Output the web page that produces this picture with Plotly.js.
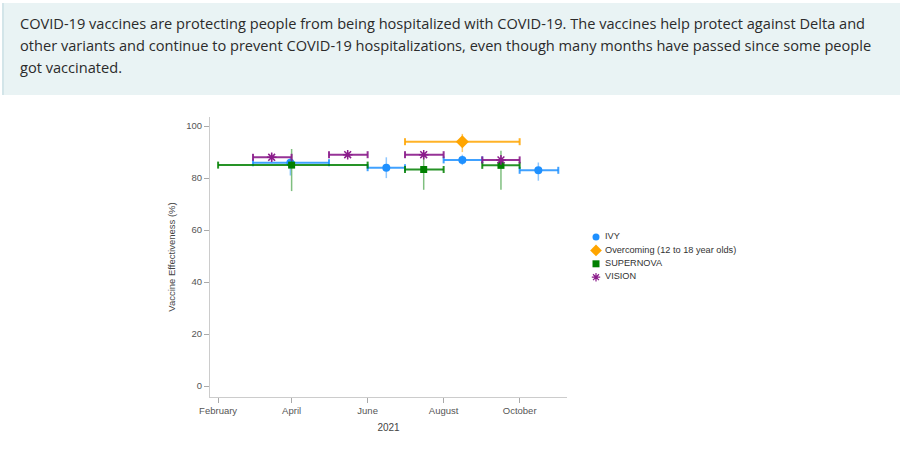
<!DOCTYPE html>
<html>
<head>
<meta charset="utf-8">
<script src="https://cdn.plot.ly/plotly-3.0.1.min.js"></script>
<style>
  html, body { margin: 0; padding: 0; background: #fff; width: 900px; height: 456px; overflow: hidden; }
  #hdr { position: absolute; left: 2px; top: 3px; width: 898px; height: 92px; background: #e9f3f4;
         border-left: 2px solid #d3e5e9; padding: 9px 20px 0 16px; box-sizing: border-box;
         font-family: "Open Sans", sans-serif; font-size: 14.6px; line-height: 22px; color: #2b2b2b; z-index: 2; }
  #chart { position: absolute; left: 0; top: 0; width: 900px; height: 456px; }
</style>
</head>
<body>
<div id="chart"></div>
<div id="hdr">COVID-19 vaccines are protecting people from being hospitalized with COVID-19. The vaccines help protect against Delta and other variants and continue to prevent COVID-19 hospitalizations, even though many months have passed since some people got vaccinated.</div>
<script>
// ---- Data ----
const seriesNames = ["IVY", "Overcoming (12 to 18 year olds)", "SUPERNOVA", "VISION"];

// IVY
const ivyMid   = ["2021-03-31", "2021-06-16", "2021-08-16", "2021-10-16"];
const ivyStart = ["2021-03-01", "2021-06-01", "2021-08-01", "2021-10-01"];
const ivyEnd   = ["2021-05-01", "2021-07-01", "2021-09-01", "2021-11-01"];
const ivyVE    = [85.9, 84, 87, 83];
const ivyLow   = [81, 80, 85, 79];
const ivyHigh  = [88, 88, 89, 86];

// Overcoming (12 to 18 year olds)
const ovcMid   = ["2021-08-16"];
const ovcStart = ["2021-07-01"];
const ovcEnd   = ["2021-10-01"];
const ovcVE    = [94];
const ovcLow   = [90];
const ovcHigh  = [97];

// SUPERNOVA
const supMid   = ["2021-04-01", "2021-07-16", "2021-09-16"];
const supStart = ["2021-02-01", "2021-07-01", "2021-09-01"];
const supEnd   = ["2021-06-01", "2021-08-01", "2021-10-01"];
const supVE    = [85, 83.3, 84.9];
const supLow   = [75, 75.5, 75.5];
const supHigh  = [91.2, 88.8, 90.5];

// VISION
const visMid   = ["2021-03-16", "2021-05-16", "2021-07-16", "2021-09-16"];
const visStart = ["2021-03-01", "2021-05-01", "2021-07-01", "2021-09-01"];
const visEnd   = ["2021-04-01", "2021-06-01", "2021-08-01", "2021-10-01"];
const visVE    = [88, 89, 89, 87];
const visLow   = [86.5, 88, 88, 85.5];
const visHigh  = [89.5, 90, 90, 88.5];

const xTickVals = ["2021-02-01", "2021-04-01", "2021-06-01", "2021-08-01", "2021-10-01"];
const yTickVals = [0, 20, 40, 60, 80, 100];

// ---- Styles ----
const colors  = ["#1e90ff", "#ffa500", "#008000", "#8b1c8b"];
const ciCols  = ["rgba(30,144,255,0.5)", "rgba(255,165,0,0.6)", "rgba(0,128,0,0.5)", "rgba(139,28,139,0.5)"];
const barCols = ["rgba(30,144,255,0.85)", "rgba(255,165,0,0.85)", "rgba(0,128,0,0.85)", "rgba(139,28,139,0.9)"];
const symbols = ["circle", "diamond", "square", "asterisk-open"];
const sizes   = [8, 10, 7, 8];

// Horizontal period bars (with end caps) built from start/end arrays
function periodTrace(i, start, end, ve) {
  const xs = [], ys = [];
  start.forEach((s, k) => { xs.push(s, end[k], null); ys.push(ve[k], ve[k], null); });
  return {
    type: "scatter", mode: "lines+markers", showlegend: false, hoverinfo: "skip",
    x: xs, y: ys,
    line: { color: barCols[i], width: 2 },
    marker: { symbol: "line-ns", size: 5, line: { color: barCols[i], width: 2 } }
  };
}

function pointTrace(i, mid, ve, lo, hi) {
  return {
    type: "scatter", mode: "markers", name: seriesNames[i], showlegend: false, hoverinfo: "skip",
    x: mid, y: ve,
    marker: { color: colors[i], symbol: symbols[i], size: sizes[i], line: { color: colors[i], width: i === 3 ? 1.5 : 0 } },
    error_y: { type: "data", symmetric: false,
      array: hi.map((h, k) => h - ve[k]),
      arrayminus: lo.map((l, k) => ve[k] - l),
      color: ciCols[i], thickness: 1.5, width: 0 }
  };
}

const traces = [
  periodTrace(0, ivyStart, ivyEnd, ivyVE), pointTrace(0, ivyMid, ivyVE, ivyLow, ivyHigh),
  periodTrace(1, ovcStart, ovcEnd, ovcVE), pointTrace(1, ovcMid, ovcVE, ovcLow, ovcHigh),
  periodTrace(2, supStart, supEnd, supVE), pointTrace(2, supMid, supVE, supLow, supHigh),
  periodTrace(3, visStart, visEnd, visVE), pointTrace(3, visMid, visVE, visLow, visHigh)
];

// Compact legend drawn on an overlay axis (pixel-like units)
const legTop = 237, legGap = 13.4;
seriesNames.forEach((nm, i) => {
  traces.push({
    type: "scatter", mode: "markers", xaxis: "x2", yaxis: "y2", showlegend: false, hoverinfo: "skip",
    x: [6], y: [legTop + i * legGap],
    marker: { color: colors[i], symbol: symbols[i], size: i === 1 ? 9 : 7, line: { color: colors[i], width: i === 3 ? 1.2 : 0 } },
    cliponaxis: false
  });
  traces.push({
    type: "scatter", mode: "text", xaxis: "x2", yaxis: "y2", showlegend: false, hoverinfo: "skip",
    x: [15], y: [legTop + i * legGap], text: [nm], textposition: "middle right",
    textfont: { family: "Liberation Sans, Arial, sans-serif", size: 9.2, color: "#333" },
    cliponaxis: false
  });
});

const tickFont = { family: "Liberation Sans, Arial, sans-serif", size: 9.5, color: "#555" };

const layout = {
  width: 900, height: 456,
  margin: { l: 210, r: 20, t: 117, b: 59 },
  paper_bgcolor: "#ffffff", plot_bgcolor: "rgba(0,0,0,0)",
  showlegend: false,
  xaxis: {
    type: "date", domain: [0, 357 / 670],
    range: ["2021-01-25 12:00", "2021-11-08"],
    tickvals: xTickVals, tickformat: "%B",
    ticks: "outside", ticklen: 5, tickcolor: "#aaa",
    showline: true, linecolor: "#ccc", linewidth: 1,
    showgrid: false, zeroline: false, tickfont: tickFont,
    title: { text: "2021", font: { family: "Liberation Sans, Arial, sans-serif", size: 10, color: "#444" }, standoff: 8 }
  },
  yaxis: {
    range: [-4.2, 103.5], tickvals: yTickVals,
    ticks: "outside", ticklen: 5, tickcolor: "#aaa",
    showline: true, linecolor: "#ccc", linewidth: 1,
    showgrid: false, zeroline: false, tickfont: tickFont,
    title: { text: "Vaccine Effectiveness (%)", font: { family: "Liberation Sans, Arial, sans-serif", size: 9.5, color: "#444" }, standoff: 8 }
  },
  xaxis2: { domain: [380 / 670, 1], range: [0, 290], visible: false, fixedrange: true },
  yaxis2: { domain: [0, 1], range: [397, 117], visible: false, fixedrange: true, anchor: "x2" }
};

Plotly.newPlot("chart", traces, layout, { displayModeBar: false, staticPlot: true });
</script>
</body>
</html>
